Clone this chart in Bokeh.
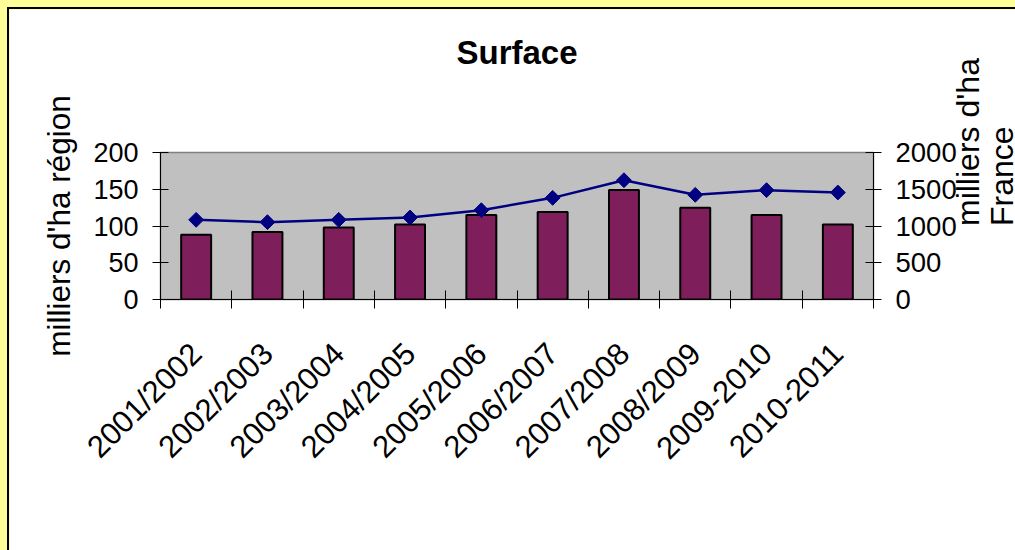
import math
from bokeh.plotting import figure
from bokeh.models import (Range1d, LinearAxis, FixedTicker, Legend, LegendItem, Title)
from bokeh.embed import file_html
from bokeh.resources import INLINE

# ---- data ----
categories = ["2001/2002", "2002/2003", "2003/2004", "2004/2005", "2005/2006",
              "2006/2007", "2007/2008", "2008/2009", "2009-2010", "2010-2011"]
colza_region = [88, 92, 98, 102, 115, 119, 149, 125, 115, 102]
colza_france = [1084, 1052, 1084, 1116, 1215, 1383, 1623, 1424, 1488, 1456]
left_ticks = [0, 50, 100, 150, 200]
right_ticks = [0, 500, 1000, 1500, 2000]

FONT = "Liberation Sans"
n = len(categories)
centers = [i + 0.5 for i in range(n)]
bounds = list(range(n + 1))

p = figure(frame_width=713, frame_height=147, output_backend="svg", toolbar_location=None,
           x_range=Range1d(0, n), y_range=Range1d(left_ticks[0], left_ticks[-1]),
           min_border_left=151, min_border_right=142, min_border_top=143,
           min_border_bottom=249, title=None)
p.extra_y_ranges = {"fr": Range1d(right_ticks[0], right_ticks[-1])}

p.background_fill_color = "#C0C0C0"
p.border_fill_color = "white"
p.outline_line_color = "#808080"
p.outline_line_width = 1.5
p.xgrid.visible = False
p.ygrid.visible = False
p.styles = {"border-top": "2px solid black", "border-left": "2px solid black"}

# title: a blank spacer panel next to the frame, then the real title above it
p.add_layout(Title(text=" ", text_font_size="4px", standoff=70), "above")
p.add_layout(Title(text="Surface", text_font=FONT, text_font_size="33px",
                   text_font_style="bold", align="center", text_color="black"), "above")

bars = p.vbar(x=centers, top=colza_region, width=0.42, fill_color="#7E1F5C",
              line_color="black", line_width=2)
line = p.line(x=centers, y=colza_france, y_range_name="fr", line_color="#000080",
              line_width=2.5)
pts = p.scatter(x=centers, y=colza_france, y_range_name="fr", marker="square",
                angle=math.pi / 4, size=10.5, fill_color="#000080",
                line_color="#000080")

# x axis
xa = p.xaxis[0]
xa.ticker = FixedTicker(ticks=centers, minor_ticks=bounds)
xa.major_label_overrides = {c: lab for c, lab in zip(centers, categories)}
xa.major_label_orientation = math.pi / 4
xa.major_tick_in = 0
xa.major_tick_out = 0
xa.minor_tick_in = 9
xa.minor_tick_out = 9
xa.minor_tick_line_color = "black"
xa.major_label_standoff = 40
xa.major_label_text_font = FONT
xa.major_label_text_font_size = "31px"
xa.major_label_text_color = "black"
xa.axis_line_color = "black"

# left axis
ya = p.yaxis[0]
ya.ticker = FixedTicker(ticks=left_ticks)
ya.major_tick_in = 8
ya.major_tick_out = 8
ya.minor_tick_line_color = None
ya.major_label_standoff = 14
ya.major_label_text_font = FONT
ya.major_label_text_font_size = "27px"
ya.major_label_text_color = "black"
ya.axis_line_color = "black"
ya.axis_label = "milliers d'ha région"
ya.axis_label_text_font = FONT
ya.axis_label_text_font_size = "31.5px"
ya.axis_label_text_font_style = "normal"
ya.axis_label_text_color = "black"
ya.axis_label_standoff = 13

# right axis with ticks
ra = LinearAxis(y_range_name="fr", ticker=FixedTicker(ticks=right_ticks))
ra.major_tick_in = 8
ra.major_tick_out = 8
ra.minor_tick_line_color = None
ra.major_label_standoff = 14
ra.major_label_text_font = FONT
ra.major_label_text_font_size = "27.5px"
ra.major_label_text_color = "black"
ra.axis_line_color = "black"
p.add_layout(ra, "right")


def bare_label_axis(text, lo, hi, standoff):
    ax = LinearAxis(y_range_name="fr", ticker=FixedTicker(ticks=[]), bounds=(lo, hi))
    ax.axis_line_color = None
    ax.major_tick_line_color = None
    ax.minor_tick_line_color = None
    ax.major_tick_out = 0
    ax.major_label_standoff = 0
    ax.major_label_text_font_size = "0px"
    ax.axis_label = text
    ax.axis_label_text_font = FONT
    ax.axis_label_text_font_size = "32px"
    ax.axis_label_text_font_style = "normal"
    ax.axis_label_text_color = "black"
    ax.axis_label_standoff = standoff
    ax.axis_label_orientation = math.pi / 2
    return ax


p.add_layout(bare_label_axis("milliers d'ha", -548, 452, 8), "right")
p.add_layout(bare_label_axis("France", -112, 888, -5), "right")

legend = Legend(items=[LegendItem(label="colza région", renderers=[bars]),
                       LegendItem(label="colza France", renderers=[line, pts])],
                orientation="horizontal", location=(126, 108),
                label_text_font=FONT, label_text_font_size="27px",
                label_text_color="black", glyph_width=64, glyph_height=21,
                spacing=10, label_standoff=2, border_line_color=None,
                background_fill_alpha=0, margin=0, padding=2)
p.add_layout(legend, "below")

TEMPLATE = """{% block postamble %}<style>html, body { background: #FFFF99; } body { padding: 7px 0 0 7px !important; }</style>{% endblock %}"""
open("out.html", "w").write(file_html(p, INLINE, template=TEMPLATE))
